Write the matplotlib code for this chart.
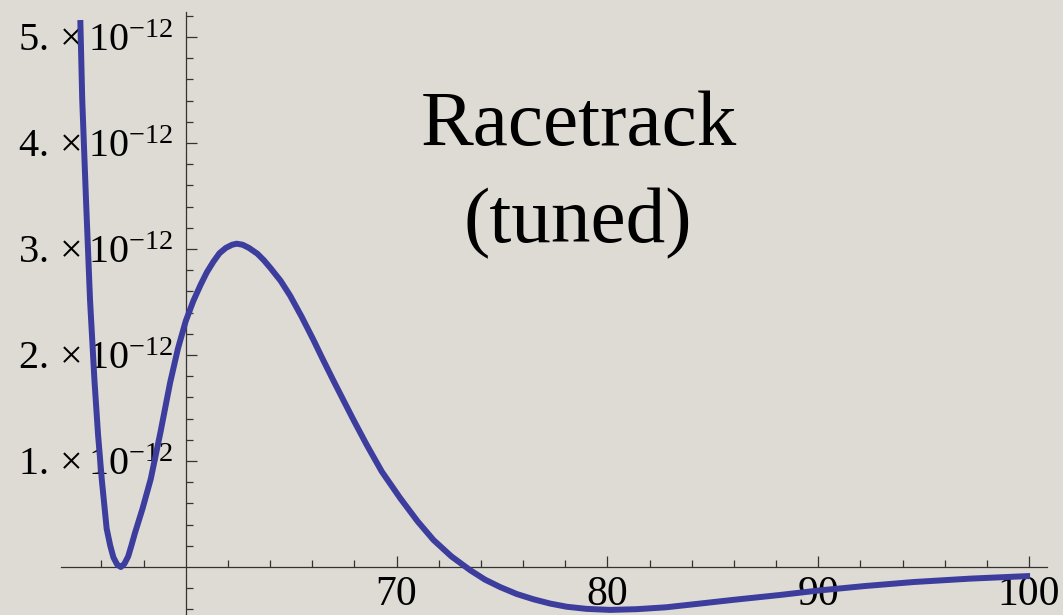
import matplotlib
matplotlib.use("Agg")
import matplotlib.pyplot as plt
from matplotlib.ticker import FixedLocator, FuncFormatter

# curve (y in units of 1e-12)
x_vals = [55.00, 55.09, 55.27, 55.46, 55.67, 55.84, 56.02, 56.25, 56.42, 56.57,
          56.75, 56.92, 57.09, 57.27, 57.42, 57.59, 57.95, 58.34, 58.80, 59.26,
          59.63, 60.00, 60.36, 60.70, 61.00, 61.31, 61.60, 61.90, 62.20, 62.42,
          62.70, 63.00, 63.40, 63.70, 64.00, 64.50, 64.95, 65.50, 66.05, 66.50,
          67.00, 67.50, 67.95, 68.59, 69.30, 70.17, 71.00, 71.75, 72.60, 73.49,
          74.20, 74.92, 75.70, 76.50, 77.28, 78.07, 79.00, 80.13, 81.40, 82.80,
          84.40, 85.98, 88.19, 90.01, 92.20, 94.52, 97.20, 100.05]
y_vals = [5.16, 4.41, 3.46, 2.52, 1.76, 1.25, 0.82, 0.36, 0.20, 0.09,
          0.022, 0.0, 0.03, 0.10, 0.20, 0.32, 0.55, 0.83, 1.27, 1.74,
          2.06, 2.32, 2.51, 2.66, 2.78, 2.88, 2.96, 3.01, 3.04, 3.05,
          3.04, 3.01, 2.955, 2.895, 2.825, 2.70, 2.56, 2.36, 2.145, 1.96,
          1.76, 1.565, 1.39, 1.15, 0.90, 0.65, 0.43, 0.255, 0.10, -0.03,
          -0.12, -0.19, -0.255, -0.305, -0.345, -0.375, -0.395, -0.405, -0.398, -0.38,
          -0.345, -0.31, -0.264, -0.222, -0.18, -0.142, -0.11, -0.085]

x_major = [70, 80, 90, 100]
y_major = [1, 2, 3, 4, 5]
title_lines = ["Racetrack", "(tuned)"]

plt.rcParams['font.family'] = ['Liberation Serif', 'DejaVu Serif']
plt.rcParams['mathtext.fontset'] = 'custom'
plt.rcParams['mathtext.rm'] = 'Liberation Serif'
plt.rcParams['mathtext.it'] = 'Liberation Serif:italic'

bg = '#dedbd4'
axc = '#333333'

fig = plt.figure(figsize=(10.63, 6.15), dpi=100, facecolor=bg)
ax = fig.add_axes([0, 0, 1, 1], facecolor=bg)

ax.plot(x_vals, y_vals, color='#3d3d9e', lw=4.3, solid_capstyle='butt',
        solid_joinstyle='round', zorder=3)

ax.set_xlim(51.19, 101.61)
ax.set_ylim(-0.453, 5.349)

for s in ['top', 'right']:
    ax.spines[s].set_visible(False)
ax.spines['left'].set_position(('data', 60))
ax.spines['bottom'].set_position(('data', 0))
ax.spines['left'].set_bounds(-0.453, 5.24)
ax.spines['bottom'].set_bounds(54.1, 100.85)
for s in ['left', 'bottom']:
    ax.spines[s].set_color(axc)
    ax.spines[s].set_linewidth(0.9)

ax.xaxis.set_major_locator(FixedLocator(x_major))
ax.xaxis.set_minor_locator(FixedLocator([v for v in range(56, 101, 2) if v % 10 != 0]))
ax.yaxis.set_major_locator(FixedLocator(y_major))
ax.yaxis.set_minor_locator(FixedLocator([i / 5 for i in range(-2, 27) if i % 5 != 0]))

ax.xaxis.set_major_formatter(FuncFormatter(lambda v, p: "%d" % v))
ax.yaxis.set_major_formatter(FuncFormatter(lambda v, p: r"$%d.\times10^{-12}$" % v))

ax.tick_params(which='both', direction='in', color=axc, width=0.9)
ax.tick_params(which='major', length=8)
ax.tick_params(which='minor', length=5)
ax.tick_params(axis='x', which='major', labelsize=30, pad=6)
ax.tick_params(axis='y', which='major', labelsize=29, pad=9)

fig.text(0.545, 1 - 145 / 615, title_lines[0], ha='center', va='baseline', fontsize=57)
fig.text(0.544, 1 - 242 / 615, title_lines[1], ha='center', va='baseline', fontsize=57)

fig.savefig("out.png", dpi=100, facecolor=bg)
